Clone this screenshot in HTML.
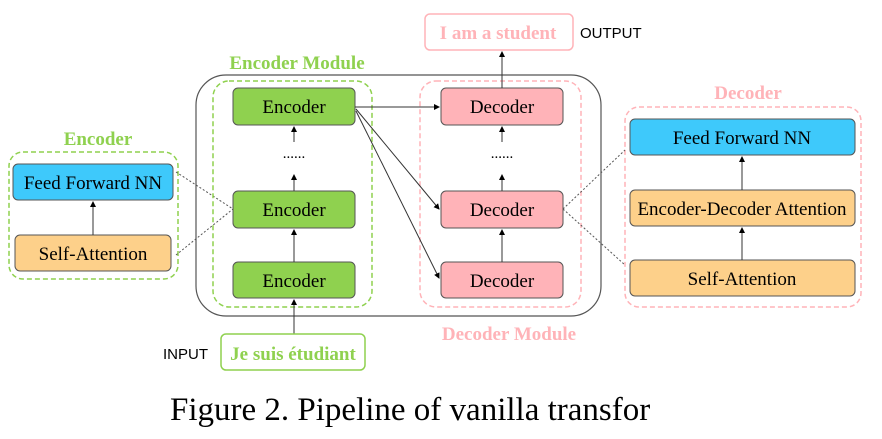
<!DOCTYPE html>
<html><head><meta charset="utf-8"><style>
body{margin:0;width:882px;height:434px;background:#fff;overflow:hidden}
</style></head><body>
<svg width="882" height="434" xmlns="http://www.w3.org/2000/svg" font-family="Liberation Serif, serif">
<defs><marker id="a" markerWidth="6" markerHeight="6" refX="5" refY="3" orient="auto"><path d="M0,0L6,3L0,6z" fill="#000"/></marker></defs>
<!-- left encoder group -->
<rect x="9" y="152" width="169" height="127" rx="14" fill="none" stroke="#8fd14f" stroke-width="1.5" stroke-dasharray="5,3"/>
<text x="98" y="145" text-anchor="middle" font-size="19" font-weight="bold" fill="#8fd14f">Encoder</text>
<rect x="13" y="164" width="160" height="36" rx="5" fill="#3ec9fb" stroke="#555"/>
<text x="93" y="189" text-anchor="middle" font-size="19">Feed Forward NN</text>
<rect x="15" y="235" width="156" height="36" rx="5" fill="#fdd08a" stroke="#555"/>
<text x="93" y="260" text-anchor="middle" font-size="19">Self-Attention</text>
<line x1="93" y1="235" x2="93" y2="202" stroke="#333" marker-end="url(#a)"/>
<line x1="176" y1="172" x2="233" y2="209" stroke="#555" stroke-dasharray="2,2"/>
<line x1="176" y1="255" x2="233" y2="209" stroke="#555" stroke-dasharray="2,2"/>
<!-- outer module -->
<rect x="196" y="75" width="405" height="241" rx="30" fill="none" stroke="#555" stroke-width="1.2"/>
<rect x="213" y="81" width="159" height="226" rx="16" fill="none" stroke="#8fd14f" stroke-width="1.5" stroke-dasharray="5,3"/>
<text x="297" y="69" text-anchor="middle" font-size="19" font-weight="bold" fill="#8fd14f">Encoder Module</text>
<rect x="420" y="81" width="161" height="226" rx="16" fill="none" stroke="#ffb3b8" stroke-width="1.5" stroke-dasharray="5,3"/>
<text x="509" y="340" text-anchor="middle" font-size="19" font-weight="bold" fill="#ffb3b8">Decoder Module</text>
<!-- encoders -->
<g font-size="19" text-anchor="middle">
<rect x="233" y="88" width="122" height="37" rx="5" fill="#8fd14f" stroke="#555"/><text x="294" y="113">Encoder</text>
<rect x="233" y="191" width="122" height="37" rx="5" fill="#8fd14f" stroke="#555"/><text x="294" y="216">Encoder</text>
<rect x="233" y="262" width="122" height="36" rx="5" fill="#8fd14f" stroke="#555"/><text x="294" y="287">Encoder</text>
<rect x="441" y="88" width="122" height="37" rx="5" fill="#ffb3b8" stroke="#555"/><text x="502" y="113">Decoder</text>
<rect x="441" y="191" width="122" height="37" rx="5" fill="#ffb3b8" stroke="#555"/><text x="502" y="216">Decoder</text>
<rect x="441" y="262" width="122" height="36" rx="5" fill="#ffb3b8" stroke="#555"/><text x="502" y="287">Decoder</text>
</g>
<text x="294" y="158" text-anchor="middle" font-size="15">......</text>
<text x="502" y="158" text-anchor="middle" font-size="15">......</text>
<g stroke="#333" marker-end="url(#a)">
<line x1="294" y1="142" x2="294" y2="127"/><line x1="294" y1="191" x2="294" y2="175"/><line x1="294" y1="262" x2="294" y2="230"/><line x1="294" y1="334" x2="294" y2="300"/>
<line x1="502" y1="142" x2="502" y2="127"/><line x1="502" y1="191" x2="502" y2="175"/><line x1="502" y1="262" x2="502" y2="230"/><line x1="502" y1="88" x2="502" y2="52"/>
<line x1="355" y1="107" x2="439" y2="107"/><line x1="356" y1="109" x2="439" y2="209"/><line x1="356" y1="111" x2="439" y2="278"/>
</g>
<!-- input/output -->
<text x="163" y="359" font-family="Liberation Sans, sans-serif" font-size="15">INPUT</text>
<rect x="221" y="334" width="144" height="36" rx="5" fill="none" stroke="#8fd14f" stroke-width="1.5"/>
<text x="293" y="360" text-anchor="middle" font-size="19" font-weight="bold" fill="#8fd14f">Je suis étudiant</text>
<rect x="425" y="14" width="148" height="36" rx="5" fill="none" stroke="#ffb3b8" stroke-width="1.5"/>
<text x="498" y="39" text-anchor="middle" font-size="19" font-weight="bold" fill="#ffb3b8">I am a student</text>
<text x="580" y="38" font-family="Liberation Sans, sans-serif" font-size="15">OUTPUT</text>
<!-- right decoder group -->
<rect x="625" y="107" width="236" height="200" rx="14" fill="none" stroke="#ffb3b8" stroke-width="1.5" stroke-dasharray="5,3"/>
<text x="748" y="99" text-anchor="middle" font-size="19" font-weight="bold" fill="#ffb3b8">Decoder</text>
<rect x="630" y="119" width="225" height="36" rx="5" fill="#3ec9fb" stroke="#555"/>
<text x="742" y="144" text-anchor="middle" font-size="19">Feed Forward NN</text>
<rect x="630" y="190" width="225" height="36" rx="5" fill="#fdd08a" stroke="#555"/>
<text x="742" y="215" text-anchor="middle" font-size="19">Encoder-Decoder Attention</text>
<rect x="630" y="260" width="225" height="36" rx="5" fill="#fdd08a" stroke="#555"/>
<text x="742" y="285" text-anchor="middle" font-size="19">Self-Attention</text>
<g stroke="#333" marker-end="url(#a)"><line x1="742" y1="190" x2="742" y2="157"/><line x1="742" y1="260" x2="742" y2="228"/></g>
<line x1="563" y1="209" x2="625" y2="150" stroke="#555" stroke-dasharray="2,2"/>
<line x1="563" y1="209" x2="625" y2="265" stroke="#555" stroke-dasharray="2,2"/>
<text x="170" y="420" font-size="33">Figure 2. Pipeline of vanilla transfor</text>
</svg>
</body></html>
